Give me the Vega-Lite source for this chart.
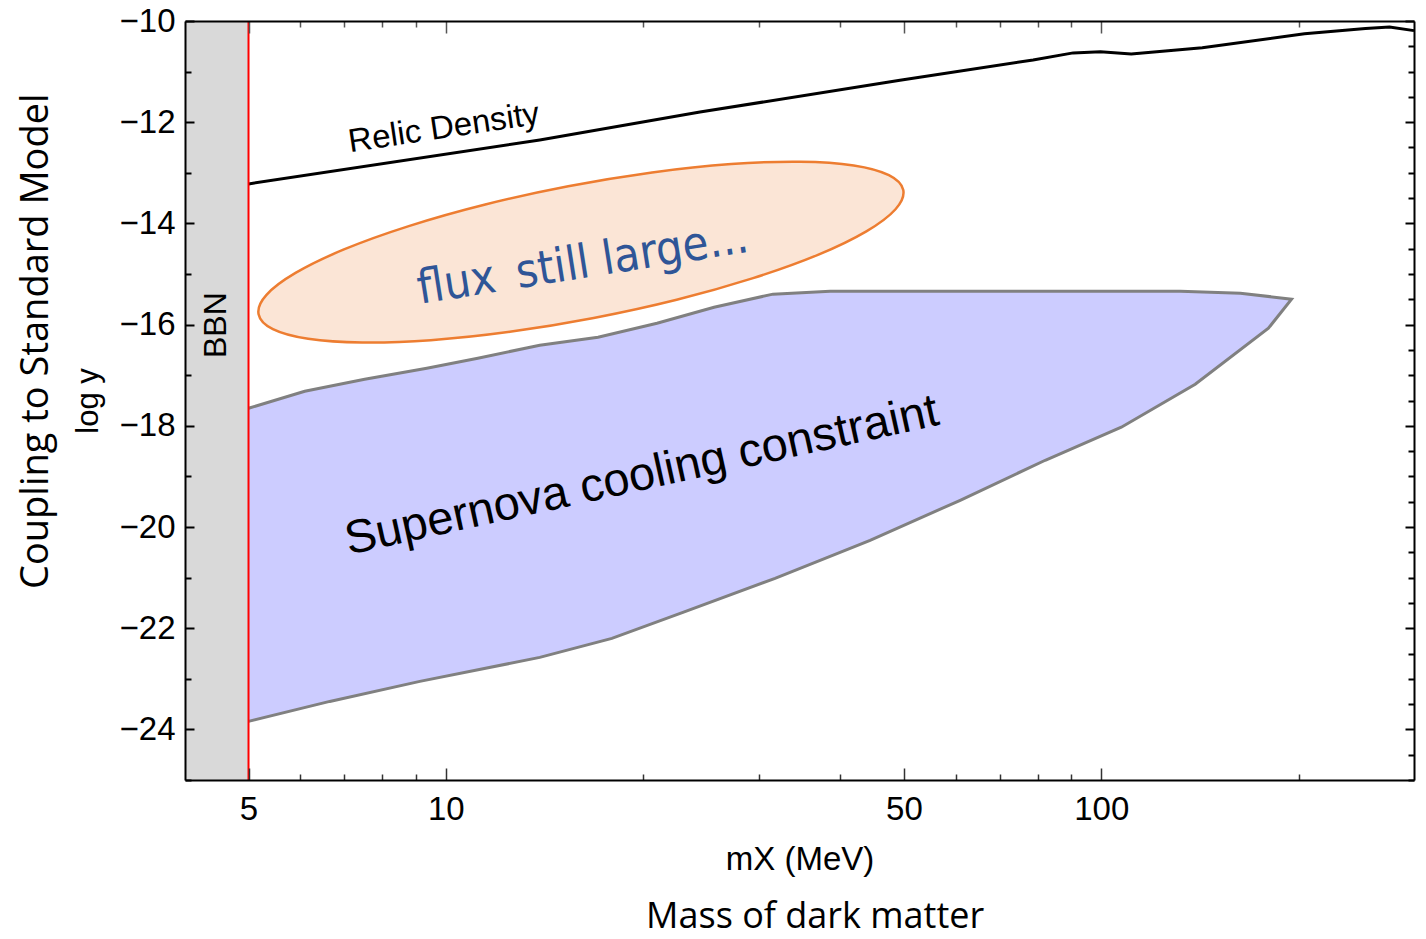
{
  "$schema": "https://vega.github.io/schema/vega-lite/v6.json",
  "width": 1229,
  "height": 759,
  "autosize": {"type": "none"},
  "padding": {"left": 185, "top": 21, "right": 12, "bottom": 159},
  "background": "white",
  "config": {"view": {"stroke": null}, "font": "Liberation Sans"},
  "datasets": {
    "sn": [
      {"i": 1, "x": 5, "y": -17.653},
      {"i": 2, "x": 6.092, "y": -17.317},
      {"i": 3, "x": 7.52, "y": -17.079},
      {"i": 4, "x": 9.354, "y": -16.862},
      {"i": 5, "x": 11.19, "y": -16.664},
      {"i": 6, "x": 13.91, "y": -16.407},
      {"i": 7, "x": 17.07, "y": -16.249},
      {"i": 8, "x": 21.0, "y": -15.972},
      {"i": 9, "x": 25.66, "y": -15.656},
      {"i": 10, "x": 31.56, "y": -15.398},
      {"i": 11, "x": 38.58, "y": -15.339},
      {"i": 12, "x": 132.0, "y": -15.339},
      {"i": 13, "x": 163.0, "y": -15.379},
      {"i": 14, "x": 195.1, "y": -15.497},
      {"i": 15, "x": 179.9, "y": -16.071},
      {"i": 16, "x": 139.1, "y": -17.178},
      {"i": 17, "x": 107.3, "y": -18.028},
      {"i": 18, "x": 82.13, "y": -18.681},
      {"i": 19, "x": 60.92, "y": -19.472},
      {"i": 20, "x": 44.39, "y": -20.263},
      {"i": 21, "x": 31.79, "y": -21.014},
      {"i": 22, "x": 23.0, "y": -21.687},
      {"i": 23, "x": 17.92, "y": -22.201},
      {"i": 24, "x": 13.91, "y": -22.577},
      {"i": 25, "x": 9.127, "y": -23.051},
      {"i": 26, "x": 6.651, "y": -23.447},
      {"i": 27, "x": 5, "y": -23.842}
    ],
    "ell": [
      {"i": 0, "x": 49.88, "y": -13.342},
      {"i": 1, "x": 48.54, "y": -13.72},
      {"i": 2, "x": 43.81, "y": -14.157},
      {"i": 3, "x": 36.95, "y": -14.622},
      {"i": 4, "x": 29.43, "y": -15.082},
      {"i": 5, "x": 22.5, "y": -15.509},
      {"i": 6, "x": 16.81, "y": -15.869},
      {"i": 7, "x": 12.52, "y": -16.142},
      {"i": 8, "x": 9.483, "y": -16.308},
      {"i": 9, "x": 7.45, "y": -16.354},
      {"i": 10, "x": 6.166, "y": -16.28},
      {"i": 11, "x": 5.447, "y": -16.089},
      {"i": 12, "x": 5.18, "y": -15.794},
      {"i": 13, "x": 5.322, "y": -15.416},
      {"i": 14, "x": 5.898, "y": -14.979},
      {"i": 15, "x": 6.992, "y": -14.515},
      {"i": 16, "x": 8.779, "y": -14.054},
      {"i": 17, "x": 11.487, "y": -13.627},
      {"i": 18, "x": 15.37, "y": -13.267},
      {"i": 19, "x": 20.64, "y": -12.994},
      {"i": 20, "x": 27.25, "y": -12.828},
      {"i": 21, "x": 34.69, "y": -12.782},
      {"i": 22, "x": 41.91, "y": -12.855},
      {"i": 23, "x": 47.42, "y": -13.047}
    ],
    "relic": [
      {"x": 5, "y": -13.22},
      {"x": 13.91, "y": -12.35},
      {"x": 24.42, "y": -11.8},
      {"x": 49.3, "y": -11.17},
      {"x": 78.7, "y": -10.77},
      {"x": 90.6, "y": -10.63},
      {"x": 99.7, "y": -10.61},
      {"x": 111.1, "y": -10.65},
      {"x": 142.6, "y": -10.53},
      {"x": 204.2, "y": -10.25},
      {"x": 253, "y": -10.15},
      {"x": 275.3, "y": -10.12},
      {"x": 300, "y": -10.19}
    ]
  },
  "resolve": {"axis": {"x": "independent", "y": "independent"}},
  "layer": [
    {
      "data": {"values": [{"x": 4, "x2": 5, "y": -25, "y2": -10}]},
      "mark": {"type": "rect", "color": "#d9d9d9"},
      "encoding": {
        "x": {
          "field": "x", "type": "quantitative",
          "scale": {"type": "log", "domain": [4, 300], "nice": false},
          "axis": {
            "orient": "bottom",
            "values": [5, 6, 7, 8, 9, 10, 20, 30, 40, 50, 60, 70, 80, 90, 100, 200],
            "format": "d",
            "labelExpr": "(datum.value == 5 || datum.value == 10 || datum.value == 50 || datum.value == 100) ? datum.label : ''",
            "tickSize": {"condition": {"test": "datum.value == 5 || datum.value == 10 || datum.value == 50 || datum.value == 100", "value": -12}, "value": -6},
            "tickColor": "#333333", "tickWidth": 1.5,
            "labelPadding": 25,
            "labelFont": "Liberation Sans", "labelFontSize": 33, "labelColor": "black",
            "labelFlush": false, "labelOverlap": false,
            "domain": true, "domainColor": "black", "domainWidth": 2,
            "grid": false,
            "title": "mX (MeV)", "titleFont": "Liberation Sans", "titleFontSize": 33, "titleFontWeight": "normal", "titleColor": "black", "titlePadding": 11,
            "zindex": 1
          }
        },
        "x2": {"field": "x2"},
        "y": {
          "field": "y", "type": "quantitative",
          "scale": {"domain": [-25, -10], "nice": false, "zero": false},
          "axis": {
            "orient": "left",
            "values": [-25, -24.5, -24, -23.5, -23, -22.5, -22, -21.5, -21, -20.5, -20, -19.5, -19, -18.5, -18, -17.5, -17, -16.5, -16, -15.5, -15, -14.5, -14, -13.5, -13, -12.5, -12, -11.5, -11, -10.5, -10],
            "format": "d",
            "labelExpr": "datum.value % 2 == 0 ? datum.label : ''",
            "tickSize": {"condition": {"test": "datum.value % 2 == 0", "value": -9}, "value": -6},
            "tickColor": "black", "tickWidth": 2,
            "labelPadding": 19,
            "labelFont": "Liberation Sans", "labelFontSize": 33, "labelColor": "black",
            "labelFlush": false, "labelOverlap": false,
            "domain": true, "domainColor": "black", "domainWidth": 2,
            "grid": false,
            "title": "log y", "titleFont": "Liberation Sans", "titleFontSize": 31, "titleFontWeight": "normal", "titleColor": "black", "titlePadding": 15,
            "zindex": 1
          }
        },
        "y2": {"field": "y2"}
      }
    },
    {
      "data": {"name": "sn"},
      "mark": {"type": "line", "interpolate": "linear-closed", "fill": "#ccccff", "stroke": "#ccccff", "strokeWidth": 0},
      "encoding": {
        "x": {"field": "x", "type": "quantitative", "scale": {"type": "log", "domain": [4, 300], "nice": false}, "axis": null},
        "y": {"field": "y", "type": "quantitative", "scale": {"domain": [-25, -10], "nice": false, "zero": false}, "axis": null},
        "order": {"field": "i", "type": "quantitative"}
      }
    },
    {
      "data": {"name": "sn"},
      "mark": {"type": "line", "color": "#808080", "strokeWidth": 3},
      "encoding": {
        "x": {"field": "x", "type": "quantitative", "scale": {"type": "log", "domain": [4, 300], "nice": false}, "axis": null},
        "y": {"field": "y", "type": "quantitative", "scale": {"domain": [-25, -10], "nice": false, "zero": false}, "axis": null},
        "order": {"field": "i", "type": "quantitative"}
      }
    },
    {
      "data": {"name": "ell"},
      "mark": {"type": "line", "interpolate": "cardinal-closed", "fill": "#fbe5d6", "stroke": "#ed7d31", "strokeWidth": 2.5},
      "encoding": {
        "x": {
          "field": "x", "type": "quantitative",
          "scale": {"type": "log", "domain": [4, 300], "nice": false},
          "axis": {
            "orient": "top",
            "values": [5, 6, 7, 8, 9, 10, 20, 30, 40, 50, 60, 70, 80, 90, 100, 200],
            "labels": false,
            "tickSize": {"condition": {"test": "datum.value == 5 || datum.value == 10 || datum.value == 50 || datum.value == 100", "value": -12}, "value": -6},
            "tickColor": "#555555", "tickWidth": 1.5,
            "domain": true, "domainColor": "black", "domainWidth": 2,
            "grid": false, "title": null, "zindex": 1
          }
        },
        "y": {
          "field": "y", "type": "quantitative",
          "scale": {"domain": [-25, -10], "nice": false, "zero": false},
          "axis": {
            "orient": "right",
            "values": [-25, -24.5, -24, -23.5, -23, -22.5, -22, -21.5, -21, -20.5, -20, -19.5, -19, -18.5, -18, -17.5, -17, -16.5, -16, -15.5, -15, -14.5, -14, -13.5, -13, -12.5, -12, -11.5, -11, -10.5, -10],
            "labels": false,
            "tickSize": {"condition": {"test": "datum.value % 2 == 0", "value": -9}, "value": -6},
            "tickColor": "black", "tickWidth": 2,
            "domain": true, "domainColor": "black", "domainWidth": 2,
            "grid": false, "title": null, "zindex": 1
          }
        },
        "order": {"field": "i", "type": "quantitative"}
      }
    },
    {
      "data": {"name": "relic"},
      "mark": {"type": "line", "color": "black", "strokeWidth": 3, "interpolate": "linear"},
      "encoding": {
        "x": {"field": "x", "type": "quantitative", "scale": {"type": "log", "domain": [4, 300], "nice": false}, "axis": null},
        "y": {"field": "y", "type": "quantitative", "scale": {"domain": [-25, -10], "nice": false, "zero": false}, "axis": null}
      }
    },
    {
      "data": {"values": [{"x": 5}]},
      "mark": {"type": "rule", "color": "#ff0000", "strokeWidth": 2},
      "encoding": {
        "x": {"field": "x", "type": "quantitative", "scale": {"type": "log", "domain": [4, 300], "nice": false}, "axis": null}
      }
    },
    {
      "data": {"values": [{"x": 9.93, "y": -12.116, "t": "Relic Density"}]},
      "mark": {"type": "text", "font": "Liberation Sans", "fontSize": 33, "angle": -8.5, "align": "center", "baseline": "middle", "color": "black"},
      "encoding": {
        "x": {"field": "x", "type": "quantitative", "scale": {"type": "log", "domain": [4, 300], "nice": false}, "axis": null},
        "y": {"field": "y", "type": "quantitative", "scale": {"domain": [-25, -10], "nice": false, "zero": false}, "axis": null},
        "text": {"field": "t"}
      }
    },
    {
      "data": {"values": [{"x": 16.19, "y": -14.8, "t": "flux\u2002still large..."}]},
      "mark": {"type": "text", "font": "Liberation Sans Narrow, DejaVu Sans Condensed, Lato", "fontSize": 47, "angle": -9, "align": "center", "baseline": "middle", "color": "#2f5597"},
      "encoding": {
        "x": {"field": "x", "type": "quantitative", "scale": {"type": "log", "domain": [4, 300], "nice": false}, "axis": null},
        "y": {"field": "y", "type": "quantitative", "scale": {"domain": [-25, -10], "nice": false, "zero": false}, "axis": null},
        "text": {"field": "t"}
      }
    },
    {
      "data": {"values": [{"x": 19.9, "y": -18.99, "t": "Supernova cooling constraint"}]},
      "mark": {"type": "text", "font": "Liberation Sans", "fontSize": 47, "angle": -12.4, "align": "center", "baseline": "middle", "color": "black"},
      "encoding": {
        "x": {"field": "x", "type": "quantitative", "scale": {"type": "log", "domain": [4, 300], "nice": false}, "axis": null},
        "y": {"field": "y", "type": "quantitative", "scale": {"domain": [-25, -10], "nice": false, "zero": false}, "axis": null},
        "text": {"field": "t"}
      }
    },
    {
      "data": {"values": [{"x": 4.455, "y": -16.01, "t": "BBN"}]},
      "mark": {"type": "text", "font": "Liberation Sans", "fontSize": 32, "angle": 270, "align": "center", "baseline": "middle", "color": "black"},
      "encoding": {
        "x": {"field": "x", "type": "quantitative", "scale": {"type": "log", "domain": [4, 300], "nice": false}, "axis": null},
        "y": {"field": "y", "type": "quantitative", "scale": {"domain": [-25, -10], "nice": false, "zero": false}, "axis": null},
        "text": {"field": "t"}
      }
    },
    {
      "data": {"values": [{"x": 2.38, "y": -16.328, "t": "Coupling to Standard Model"}]},
      "mark": {"type": "text", "font": "Open Sans", "fontSize": 38, "angle": 270, "align": "center", "baseline": "middle", "color": "black"},
      "encoding": {
        "x": {"field": "x", "type": "quantitative", "scale": {"type": "log", "domain": [4, 300], "nice": false}, "axis": null},
        "y": {"field": "y", "type": "quantitative", "scale": {"domain": [-25, -10], "nice": false, "zero": false}, "axis": null},
        "text": {"field": "t"}
      }
    },
    {
      "data": {"values": [{"x": 36.6, "y": -27.92, "t": "Mass of dark matter"}]},
      "mark": {"type": "text", "font": "Open Sans", "fontSize": 36, "align": "center", "baseline": "alphabetic", "color": "black"},
      "encoding": {
        "x": {"field": "x", "type": "quantitative", "scale": {"type": "log", "domain": [4, 300], "nice": false}, "axis": null},
        "y": {"field": "y", "type": "quantitative", "scale": {"domain": [-25, -10], "nice": false, "zero": false}, "axis": null},
        "text": {"field": "t"}
      }
    }
  ]
}
